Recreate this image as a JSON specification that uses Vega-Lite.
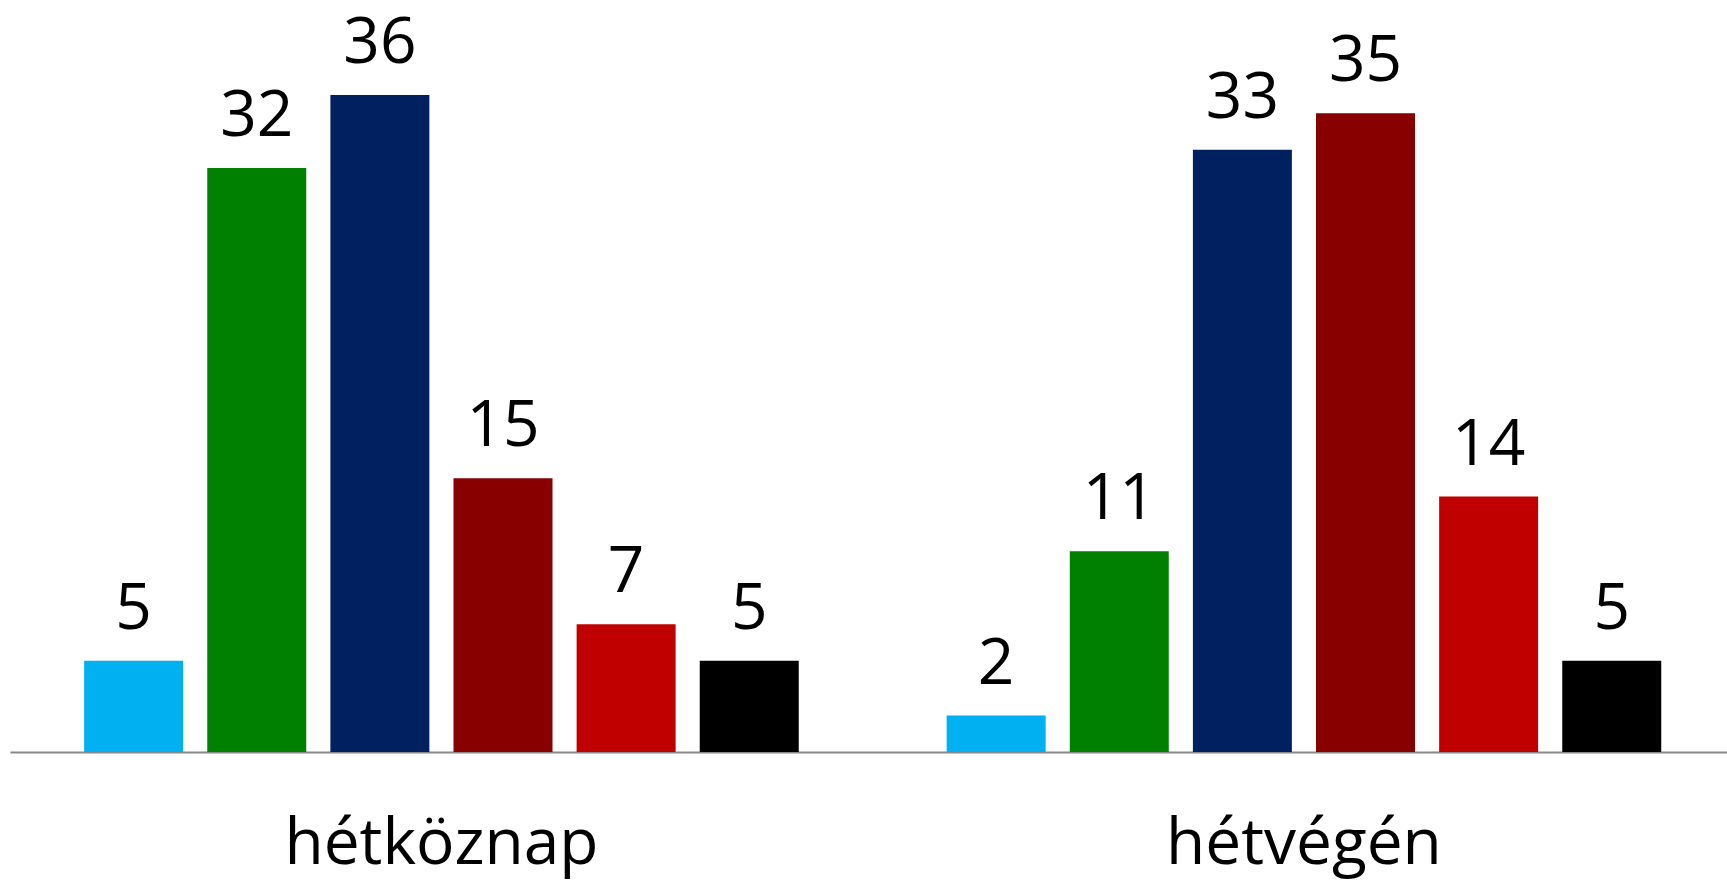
{
  "$schema": "https://vega.github.io/schema/vega-lite/v6.json",
  "autosize": "none",
  "width": 1717,
  "height": 730,
  "padding": {"left": 10, "top": 22, "right": 0, "bottom": 131},
  "background": "white",
  "config": {"view": {"stroke": null}, "font": "Open Sans"},
  "data": {
    "values": [
      {"csoport": "hétköznap", "sorozat": "s1", "ertek": 5},
      {"csoport": "hétköznap", "sorozat": "s2", "ertek": 32},
      {"csoport": "hétköznap", "sorozat": "s3", "ertek": 36},
      {"csoport": "hétköznap", "sorozat": "s4", "ertek": 15},
      {"csoport": "hétköznap", "sorozat": "s5", "ertek": 7},
      {"csoport": "hétköznap", "sorozat": "s6", "ertek": 5},
      {"csoport": "hétvégén", "sorozat": "s1", "ertek": 2},
      {"csoport": "hétvégén", "sorozat": "s2", "ertek": 11},
      {"csoport": "hétvégén", "sorozat": "s3", "ertek": 33},
      {"csoport": "hétvégén", "sorozat": "s4", "ertek": 35},
      {"csoport": "hétvégén", "sorozat": "s5", "ertek": 14},
      {"csoport": "hétvégén", "sorozat": "s6", "ertek": 5}
    ]
  },
  "encoding": {
    "x": {
      "field": "csoport",
      "type": "nominal",
      "sort": ["hétköznap", "hétvégén"],
      "scale": {"paddingInner": 0.1715, "paddingOuter": 0.0811, "align": 0.53},
      "axis": {
        "title": null,
        "ticks": false,
        "labelAngle": 0,
        "labelFontSize": 64,
        "labelLimit": 0,
        "labelColor": "#000000",
        "labelFont": "Open Sans",
        "labelPadding": 111,
        "labelBaseline": "alphabetic",
        "domainColor": "#898989",
        "domainWidth": 2
      }
    },
    "xOffset": {
      "field": "sorozat",
      "type": "nominal",
      "scale": {"paddingInner": 0.196, "paddingOuter": 0}
    },
    "y": {
      "field": "ertek",
      "type": "quantitative",
      "scale": {"domain": [0, 40], "nice": false},
      "axis": null
    }
  },
  "layer": [
    {
      "mark": {"type": "bar"},
      "encoding": {
        "color": {
          "field": "sorozat",
          "type": "nominal",
          "scale": {
            "domain": ["s1", "s2", "s3", "s4", "s5", "s6"],
            "range": ["#00B0F0", "#008000", "#002060", "#880000", "#C00000", "#000000"]
          },
          "legend": null
        }
      }
    },
    {
      "mark": {"type": "text", "baseline": "alphabetic", "dy": -32, "fontSize": 64, "font": "Open Sans", "color": "#000000"},
      "encoding": {
        "text": {"field": "ertek", "type": "quantitative"}
      }
    }
  ]
}
